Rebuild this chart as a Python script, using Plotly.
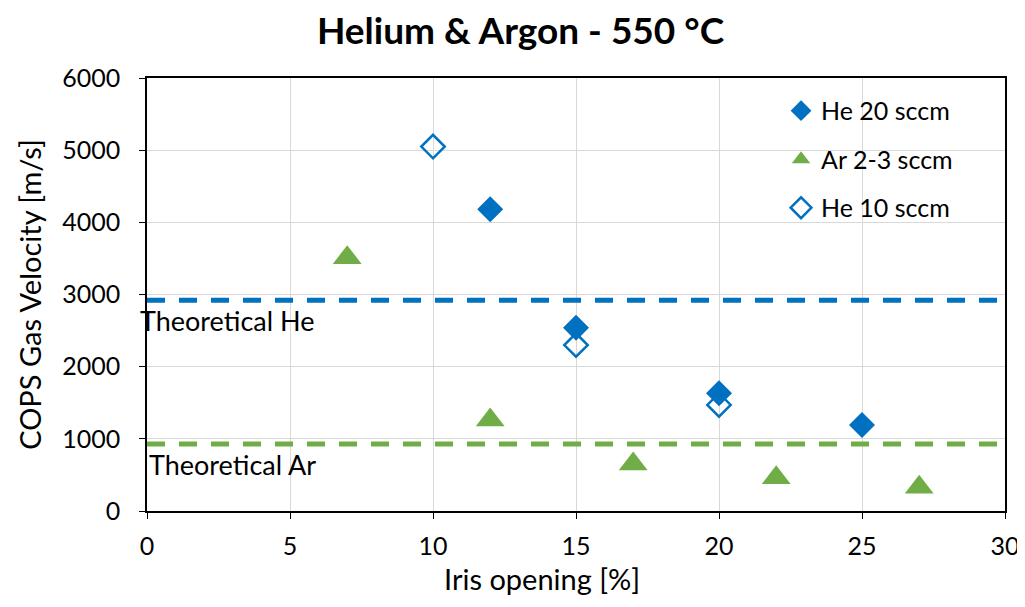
import plotly.graph_objects as go

# Data
he20_x = [12, 15, 20, 25]
he20_y = [4180, 2540, 1630, 1190]

ar_x = [7, 12, 17, 22, 27]
ar_y = [3510, 1260, 650, 460, 330]

he10_x = [10, 15, 20]
he10_y = [5050, 2300, 1470]

theory_x = [0, 30]
theory_he = [2920, 2920]
theory_ar = [930, 930]

BLUE = "#0070C0"
GREEN = "#70AD47"
FONT = "Lato, 'Open Sans', sans-serif"

fig = go.Figure()

fig.add_trace(go.Scatter(
    x=theory_x, y=theory_he, mode="lines", showlegend=False,
    line=dict(color=BLUE, width=5, dash="18px,14px"), hoverinfo="skip"
))
fig.add_trace(go.Scatter(
    x=theory_x, y=theory_ar, mode="lines", showlegend=False,
    line=dict(color=GREEN, width=5, dash="18px,14px"), hoverinfo="skip"
))

fig.add_trace(go.Scatter(
    x=he20_x, y=he20_y, mode="markers", name="He 20 sccm", legendgroup="a",
    marker=dict(symbol="diamond", size=20, color=BLUE, line=dict(width=0))
))
fig.add_trace(go.Scatter(
    x=ar_x, y=ar_y, mode="markers", name="Ar 2-3 sccm", legendgroup="b",
    marker=dict(symbol="triangle-up", size=25, color=GREEN, line=dict(width=0))
))
fig.add_trace(go.Scatter(
    x=he10_x, y=he10_y, mode="markers", name="He 10 sccm", legendgroup="c",
    marker=dict(symbol="diamond-open", size=18, color=BLUE, line=dict(width=2.5))
))

fig.add_annotation(
    x=0, xref="paper", y=theory_he[0], yref="y", yshift=-2, xshift=-9,
    text="Theoretical He", showarrow=False, xanchor="left", yanchor="top",
    font=dict(size=27, color="#000000", family=FONT)
)
fig.add_annotation(
    x=0.01, xref="paper", y=theory_ar[0], yref="y", yshift=-2, xshift=-9,
    text="Theoretical Ar", showarrow=False, xanchor="left", yanchor="top",
    font=dict(size=27, color="#000000", family=FONT)
)

# x-axis title sits a little left of centre in the reference
fig.add_annotation(
    x=0.46, xref="paper", y=-0.155, yref="paper",
    text="Iris opening [%]", showarrow=False, xanchor="center", yanchor="middle",
    font=dict(size=29, color="#000000", family=FONT)
)

axis_common = dict(
    showgrid=True, gridcolor="#D9D9D9", gridwidth=1,
    showline=True, linecolor="#000000", linewidth=1.5, mirror=True,
    ticks="outside", ticklen=6, tickcolor="#000000",
    tickfont=dict(size=25, color="#000000", family=FONT),
    zeroline=False,
)

fig.update_layout(
    width=1025, height=607,
    paper_bgcolor="white", plot_bgcolor="white",
    font=dict(family=FONT, color="#000000"),
    title=dict(
        text="<b>Helium & Argon - 550 °C</b>",
        x=0.5, xanchor="center", y=0.962, yanchor="middle",
        font=dict(size=37, color="#000000", family=FONT)
    ),
    xaxis=dict(
        range=[0, 30], dtick=5, ticklabelstandoff=6,
        **axis_common
    ),
    yaxis=dict(
        range=[0, 6000], dtick=1000, ticklabelstandoff=14,
        title=dict(text="COPS Gas Velocity [m/s]", font=dict(size=29), standoff=12),
        **axis_common
    ),
    legend=dict(
        x=0.739, y=0.977, xanchor="left", yanchor="top",
        bgcolor="rgba(0,0,0,0)", font=dict(size=25, color="#000000"),
        tracegroupgap=13, itemwidth=30
    ),
    margin=dict(l=139, r=28, t=70, b=104),
)

fig.write_html("out.html")
